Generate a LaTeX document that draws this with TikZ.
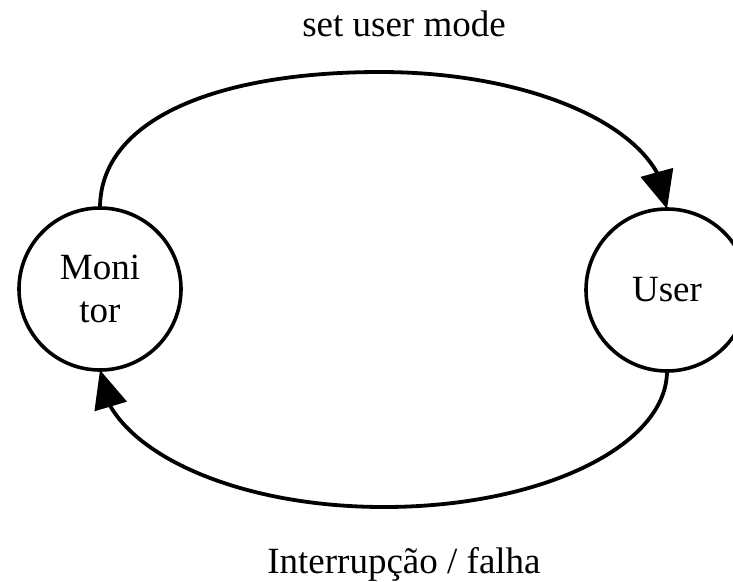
\documentclass[tikz,border=0pt]{standalone}
\usepackage{fontspec}
\setmainfont{Liberation Serif}
\usetikzlibrary{arrows.meta,bending}
\begin{document}
\begin{tikzpicture}[x=1pt,y=-1pt,
  state/.style={circle,draw,line width=3.6pt,minimum size=162pt,inner sep=0pt,outer sep=0pt,align=center,font=\fontsize{37}{44}\selectfont},
  lbl/.style={anchor=base,font=\fontsize{37}{44}\selectfont},
  trans/.style={line width=3.8pt,-{Triangle[length=38pt,width=33pt,flex]}}]
\useasboundingbox (0,0) rectangle (733,581);
\node[state] (M) at (100,289) {Moni\\[-1pt]tor};
\node[state] (U) at (667,290) {User};
\coordinate (tm) at (380,72);
\coordinate (bm) at (384,507);
\draw[trans] (M.north) .. controls (100,120) and (215,72) .. (tm)
  .. controls (538,72) and (667,132) .. (U.north);
\draw[trans] (U.south) .. controls (667,446) and (541,507) .. (bm)
  .. controls (222,507) and (100,442) .. (M.south);
\node[lbl] (t1) at (404,36) {set user mode};
\node[lbl] (t2) at (404,573) {Interrupção / falha};
\end{tikzpicture}
\end{document}
